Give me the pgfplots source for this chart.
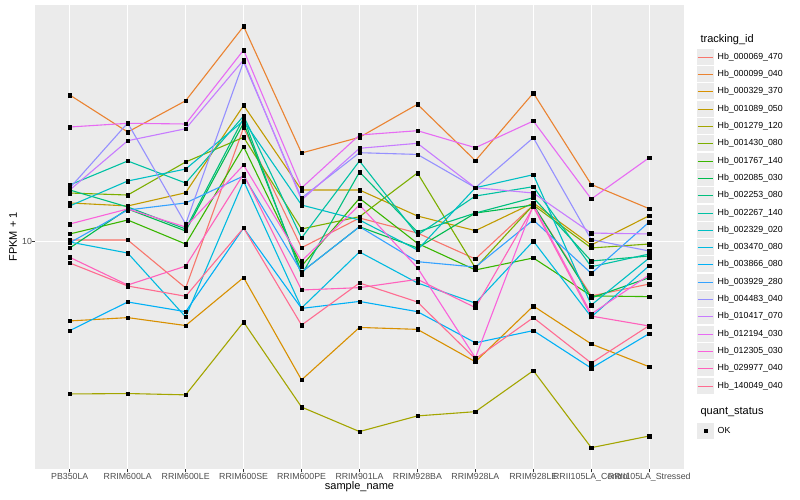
\documentclass[border=0pt]{standalone}
\usepackage{fontspec}
\setmainfont{Liberation Sans}
\usepackage{pgfplots}
\usepackage{pgfplotstable}
\pgfplotsset{compat=1.18}

\definecolor{panelbg}{HTML}{EBEBEB}
\definecolor{ticktext}{HTML}{4D4D4D}
\definecolor{tickline}{HTML}{333333}
% ggplot hue palette, 20 levels
\definecolor{c1}{HTML}{F8766D}
\definecolor{c2}{HTML}{EA8331}
\definecolor{c3}{HTML}{D89000}
\definecolor{c4}{HTML}{C09B00}
\definecolor{c5}{HTML}{A3A500}
\definecolor{c6}{HTML}{7CAE00}
\definecolor{c7}{HTML}{39B600}
\definecolor{c8}{HTML}{00BB4E}
\definecolor{c9}{HTML}{00BF7D}
\definecolor{c10}{HTML}{00C1A3}
\definecolor{c11}{HTML}{00BFC4}
\definecolor{c12}{HTML}{00BAE0}
\definecolor{c13}{HTML}{00B0F6}
\definecolor{c14}{HTML}{35A2FF}
\definecolor{c15}{HTML}{9590FF}
\definecolor{c16}{HTML}{C77CFF}
\definecolor{c17}{HTML}{E76BF3}
\definecolor{c18}{HTML}{FA62DB}
\definecolor{c19}{HTML}{FF62BC}
\definecolor{c20}{HTML}{FF6C91}

% FPKM + 1, one column per tracking_id, one row per sample
\pgfplotstableread{
x  s1    s2    s3   s4    s5   s6    s7    s8    s9    s10   s11   s12   s13   s14   s15   s16   s17   s18   s19   s20
1  10.16 38.62 4.82 14.29 2.46 15.66 10.74 9.44  16.10 16.86 13.90 9.97  4.41  9.90  16.40 16.10 28.76 11.77 8.66  8.22
2  10.16 27.46 4.97 13.90 2.47 15.37 12.21 13.52 13.77 21.03 17.49 9.01  5.74  13.39 29.84 25.35 29.76 13.52 6.71  6.65
3  6.53  36.64 4.62 15.70 2.44 20.84 9.79  11.04 11.24 17.17 19.53 5.00  5.25  14.29 11.77 28.31 29.57 11.45 7.99  6.05
4  28.57 72.70 7.19 35.12 4.77 26.16 23.99 29.84 31.25 31.83 30.48 17.49 11.35 18.32 52.48 53.31 58.45 20.27 18.66 11.35
5  9.46  22.64 2.80 16.10 2.18 11.24 7.99  7.56  7.36  10.35 14.02 5.43  5.41  7.56  14.96 14.68 16.40 8.37  6.41  4.64
6  12.44 26.16 4.54 16.10 1.74 12.59 14.92 11.48 19.00 21.03 12.21 9.10  5.77  11.48 22.70 23.64 26.72 14.02 6.55  6.84
7  10.83 35.45 4.46 12.67 2.01 18.83 9.85  9.44  10.94 10.64 9.27  6.84  5.25  8.32  22.34 24.75 27.80 7.87  7.07  5.74
8  8.53  21.09 3.31 11.07 2.09 7.85  7.71  13.02 13.02 15.23 16.44 5.68  3.94  7.92  16.44 16.44 23.77 3.43  5.45  3.40
9  14.02 39.34 5.53 14.29 3.05 14.02 8.61  14.02 15.00 16.60 18.54 10.06 4.41  12.21 26.06 15.66 30.40 14.02 13.77 4.97
10 6.07  16.94 3.90 9.70  1.50 9.44  6.07  5.96  8.37  7.94  5.58  5.00  3.12  7.47  10.19 10.83 14.82 5.14  5.04  3.27
11 6.77  13.55 3.16 12.71 1.67 9.79  6.03  7.18  8.77  8.93  8.61  8.02  4.29  11.99 9.18  10.74 21.68 7.36  4.60  4.62
}\fpkm

\begin{document}
\begin{tikzpicture}
\fill[white] (0pt,0pt) rectangle (800pt,500pt);
\path[use as bounding box] (0pt,0pt) rectangle (800pt,500pt);

\begin{axis}[
  at={(35pt,31pt)}, anchor=south west,
  scale only axis, width=649pt, height=464pt,
  xmin=0.4, xmax=11.6,
  ymode=log, ymin=1.2326, ymax=88.48,
  axis background/.style={fill=panelbg},
  axis line style={draw=none},
  grid=major, major grid style={white, line width=1.1pt},
  xtick={1,...,11},
  xticklabels={PB350LA,RRIM600LA,RRIM600LE,RRIM600SE,RRIM600PE,RRIM901LA,RRIM928BA,RRIM928LA,RRIM928LE,RRII105LA\_Control,RRII105LA\_Stressed},
  ytick={10}, yticklabels={10},
  yminorticks=false, minor y tick num=0,
  tick align=outside, xtick pos=bottom, ytick pos=left,
  major tick length=3.5pt,
  major tick style={tickline, line width=0.6pt},
  tick label style={font=\fontsize{8.8}{10}\selectfont, text=ticktext},
  xticklabel style={yshift=3pt},
  yticklabel style={xshift=4pt},
  xlabel={sample\_name}, ylabel={FPKM + 1},
  label style={font=\fontsize{11}{13}\selectfont},
  xlabel style={at={(axis description cs:0.5,-0.0388)}, anchor=center},
  ylabel style={at={(axis description cs:-0.0339,0.5)}, anchor=center},
]
\pgfplotsinvokeforeach{1,...,20}{
  \addplot[c#1, line width=1.1pt, mark=none] table[x=x, y=s#1] {\fpkm};
}
\pgfplotsinvokeforeach{1,...,20}{
  \addplot[only marks, mark=square*, mark size=1.7pt, black] table[x=x, y=s#1] {\fpkm};
}
\end{axis}

% legend: tracking_id -- key backgrounds, then key lines, then labels
\node[anchor=west, font=\fontsize{11}{13}\selectfont] at (697pt,460pt) {tracking\_id};
\foreach \i in {1,...,20}{
  \pgfmathsetmacro\yy{floor(442.7-(\i-1)*17.3)+0.5}
  \path[fill=panelbg] (697pt,\yy pt-8pt) rectangle (714pt,\yy pt+8pt);
}
\foreach \i in {1,...,20}{
  \pgfmathsetmacro\yy{floor(442.7-(\i-1)*17.3)+0.5}
  \path[draw=c\i, line width=1.4pt] (697.5pt,\yy pt) -- (713pt,\yy pt);
}
\foreach \i/\lab in {1/Hb\_000069\_470,2/Hb\_000099\_040,3/Hb\_000329\_370,4/Hb\_001089\_050,
  5/Hb\_001279\_120,6/Hb\_001430\_080,7/Hb\_001767\_140,8/Hb\_002085\_030,9/Hb\_002253\_080,
  10/Hb\_002267\_140,11/Hb\_002329\_020,12/Hb\_003470\_080,13/Hb\_003866\_080,14/Hb\_003929\_280,
  15/Hb\_004483\_040,16/Hb\_010417\_070,17/Hb\_012194\_030,18/Hb\_012305\_030,19/Hb\_029977\_040,
  20/Hb\_140049\_040}{
  \pgfmathsetmacro\yy{floor(442.7-(\i-1)*17.3)+0.5}
  \node[anchor=west, inner sep=0pt, font=\fontsize{8.8}{10}\selectfont] at (717.5pt,\yy pt) {\lab};
}

% second legend: quant_status
\begin{axis}[
  at={(35pt,31pt)}, anchor=south west,
  scale only axis, width=649pt, height=464pt,
  hide axis, xmin=0, xmax=1, ymin=0, ymax=1,
  legend style={at={(axis description cs:1.0200,0.1000)}, anchor=north west,
    draw=none, fill=none, inner sep=0pt, column sep=3.5pt,
    font=\fontsize{8.8}{10}\selectfont, nodes={inner sep=0pt}},
  legend image code/.code={
    \fill[panelbg, draw=none] (0pt,-8pt) rectangle (17pt,8pt);
    \draw plot coordinates {(8.5pt,0pt)};
  },
]
\addlegendimage{black, only marks, mark=square*, mark size=1.7pt}
\addlegendentry{OK}
\end{axis}
\node[anchor=west, font=\fontsize{11}{13}\selectfont] at (697pt,88pt) {quant\_status};
\end{tikzpicture}
\end{document}
